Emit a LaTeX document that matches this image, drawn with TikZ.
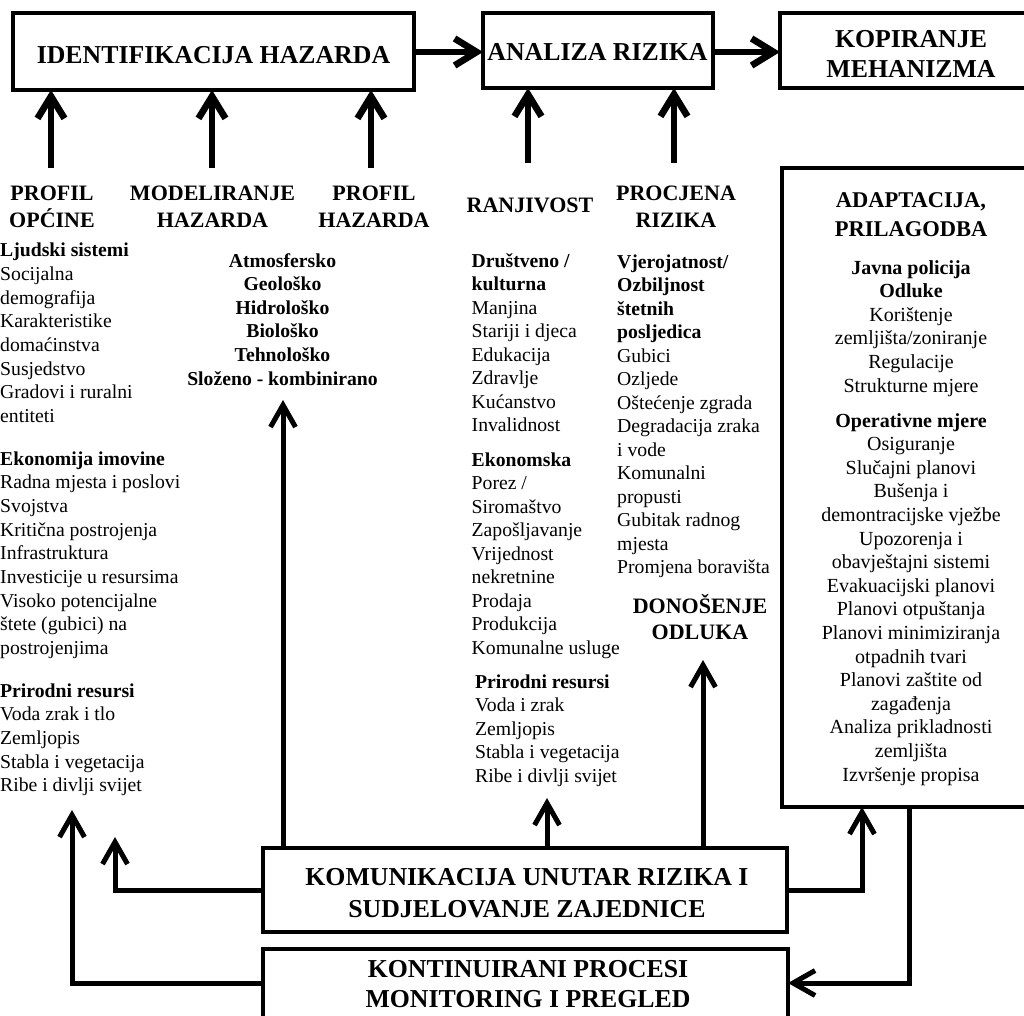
\documentclass[tikz,border=0pt]{standalone}
\usepackage{fontspec}
\setmainfont{Liberation Serif}
\usetikzlibrary{arrows.meta}
\newcommand\fTitle{\fontsize{25.8}{30}\selectfont\bfseries}
\newcommand\fLab{\fontsize{22}{27}\selectfont\bfseries}
\newcommand\fBody{\fontsize{19.7}{23.7}\selectfont}
\newcommand\fBodyA{\fontsize{20}{23.6}\selectfont}
\begin{document}
\begin{tikzpicture}[x=1pt,y=-1pt,
  box/.style={draw, line width=4pt, inner sep=0pt, outer sep=0pt},
  bigarr/.style={line width=6.7pt, -{Straight Barb[length=22pt,width=27pt]}},
  arr/.style={line width=5pt, -{Straight Barb[length=22pt,width=25pt]}},
  tc/.style={inner sep=0pt, anchor=base},
  tl/.style={inner sep=0pt, anchor=base west}]
\useasboundingbox (0,0) rectangle (1024,1015);
\clip (0,0) rectangle (1024,1015);

% ---- boxes ----
\node[box, minimum width=401pt, minimum height=77pt] (id) at (213.5,51.5) {};
\node[box, minimum width=230pt, minimum height=75pt] (an) at (598,50.5) {};
\node[box, minimum width=262pt, minimum height=75pt] (kop) at (911,50.5) {};
\node[box, minimum width=260pt, minimum height=639pt] (adapt) at (912,487.5) {};
\node[box, minimum width=524pt, minimum height=84pt] (komm) at (525,890) {};
\node[box, minimum width=525pt, minimum height=71pt] (kont) at (525.5,984.5) {};

% ---- box texts ----
\node[tc] (idT) at (213.5,63) {\fTitle IDENTIFIKACIJA HAZARDA};
\node[tc] (anT) at (597.5,60) {\fTitle ANALIZA RIZIKA};
\node[tc] (kopT) at (911,47) {\parbox[t]{250pt}{\fTitle\centering KOPIRANJE\\MEHANIZMA}};
\node[tc] (kommT) at (527,885) {\parbox[t]{500pt}{\fontsize{25.8}{32}\selectfont\bfseries\centering KOMUNIKACIJA UNUTAR RIZIKA I\\SUDJELOVANJE ZAJEDNICE}};
\node[tc] (kontT) at (528,977) {\parbox[t]{500pt}{\fontsize{25.8}{30.5}\selectfont\bfseries\centering KONTINUIRANI PROCESI\\MONITORING I PREGLED}};

% ---- labels ----
\node[tc] (l1) at (52,200) {\parbox[t]{150pt}{\fLab\centering PROFIL\\OPĆINE}};
\node[tc] (l2) at (212.5,200) {\parbox[t]{200pt}{\fLab\centering MODELIRANJE\\HAZARDA}};
\node[tc] (l3) at (374,200) {\parbox[t]{150pt}{\fLab\centering PROFIL\\HAZARDA}};
\node[tc] (l4) at (530,212) {\fLab RANJIVOST};
\node[tc] (l5) at (676,200) {\parbox[t]{150pt}{\fLab\centering PROCJENA\\RIZIKA}};
\node[tc] (adT) at (911,207) {\parbox[t]{250pt}{\fontsize{22.5}{29}\selectfont\bfseries\centering ADAPTACIJA,\\PRILAGODBA}};
\node[tc] (don) at (700,613) {\parbox[t]{200pt}{\fontsize{22}{26}\selectfont\bfseries\centering DONOŠENJE\\ODLUKA}};

% ---- left column ----
\node[tl] (ljud) at (0,256.7) {\parbox[t]{260pt}{\fBody\raggedright\textbf{Ljudski sistemi}\\Socijalna\\demografija\\Karakteristike\\domaćinstva\\Susjedstvo\\Gradovi i ruralni\\entiteti}};
\node[tl] (ekim) at (0,465) {\parbox[t]{260pt}{\fBody\raggedright\textbf{Ekonomija imovine}\\Radna mjesta i poslovi\\Svojstva\\Kritična postrojenja\\Infrastruktura\\Investicije u resursima\\Visoko potencijalne\\štete (gubici) na\\postrojenjima}};
\node[tl] (prir1) at (0,697) {\parbox[t]{260pt}{\fBody\raggedright\textbf{Prirodni resursi}\\Voda zrak i tlo\\Zemljopis\\Stabla i vegetacija\\Ribe i divlji svijet}};

% ---- hazard types ----
\node[tc] (haz) at (282.5,267) {\parbox[t]{260pt}{\fontsize{19.7}{23.6}\selectfont\bfseries\centering Atmosfersko\\Geološko\\Hidrološko\\Biološko\\Tehnološko\\Složeno - kombinirano}};

% ---- vulnerability column ----
\node[tl] (drus) at (471.5,267) {\parbox[t]{200pt}{\fontsize{19.7}{23.5}\selectfont\raggedright{\bfseries Društveno /\\kulturna}\\Manjina\\Stariji i djeca\\Edukacija\\Zdravlje\\Kućanstvo\\Invalidnost}};
\node[tl] (ekon) at (471.5,466) {\parbox[t]{200pt}{\fontsize{19.7}{23.5}\selectfont\raggedright\textbf{Ekonomska}\\Porez /\\Siromaštvo\\Zapošljavanje\\Vrijednost\\nekretnine\\Prodaja\\Produkcija\\Komunalne usluge}};
\node[tl] (prir2) at (475,688) {\parbox[t]{200pt}{\fontsize{19.7}{23.6}\selectfont\raggedright\textbf{Prirodni resursi}\\Voda i zrak\\Zemljopis\\Stabla i vegetacija\\Ribe i divlji svijet}};

% ---- risk assessment column ----
\node[tl] (vjer) at (617,268) {\parbox[t]{200pt}{\fontsize{19.7}{23.5}\selectfont\raggedright{\bfseries Vjerojatnost/\\Ozbiljnost\\štetnih\\posljedica}\\Gubici\\Ozljede\\Oštećenje zgrada\\Degradacija zraka\\i vode\\Komunalni\\propusti\\Gubitak radnog\\mjesta\\Promjena boravišta}};

% ---- adaptation column ----
\node[tc] (javna) at (911,274) {\parbox[t]{250pt}{\fBodyA\centering{\bfseries Javna policija\\Odluke}\\Korištenje\\zemljišta/zoniranje\\Regulacije\\Strukturne mjere}};
\node[tc] (oper) at (911,427) {\parbox[t]{250pt}{\fBodyA\centering\textbf{Operativne mjere}\\Osiguranje\\Slučajni planovi\\Bušenja i\\demontracijske vježbe\\Upozorenja i\\obavještajni sistemi\\Evakuacijski planovi\\Planovi otpuštanja\\Planovi minimiziranja\\otpadnih tvari\\Planovi zaštite od\\zagađenja\\Analiza prikladnosti\\zemljišta\\Izvršenje propisa}};

% ---- free-end coordinates ----
\coordinate (a1) at (51,168);
\coordinate (a2) at (212,168);
\coordinate (a3) at (371,168);
\coordinate (a4) at (528,163);
\coordinate (a5) at (674,163);
\coordinate (hz) at (283,400);
\coordinate (vb) at (547,798);
\coordinate (dn) at (703,660);
\coordinate (c1) at (115,837);
\coordinate (c2) at (72,810);

% ---- top connectors ----
\draw[bigarr] (id.east |- 0,52) -- (an.west |- 0,52);
\draw[bigarr] (an.east |- 0,52) -- (kop.west |- 0,52);
\draw[bigarr] (a1) -- (a1 |- id.south);
\draw[bigarr] (a2) -- (a2 |- id.south);
\draw[bigarr] (a3) -- (a3 |- id.south);
\draw[bigarr] (a4) -- (a4 |- an.south);
\draw[bigarr] (a5) -- (a5 |- an.south);

% ---- bottom connectors ----
\draw[arr] (hz |- komm.north) -- (hz);
\draw[arr] (vb |- komm.north) -- (vb);
\draw[arr] (dn |- komm.north) -- (dn);
\draw[arr] (komm.west) -| (c1);
\draw[arr] (kont.west |- 0,983) -| (c2);
\draw[arr] (komm.east) -| ([xshift=-50pt]adapt.south);
\draw[arr] ([xshift=-3pt]adapt.south) |- (kont.east |- 0,983);
\end{tikzpicture}
\end{document}
